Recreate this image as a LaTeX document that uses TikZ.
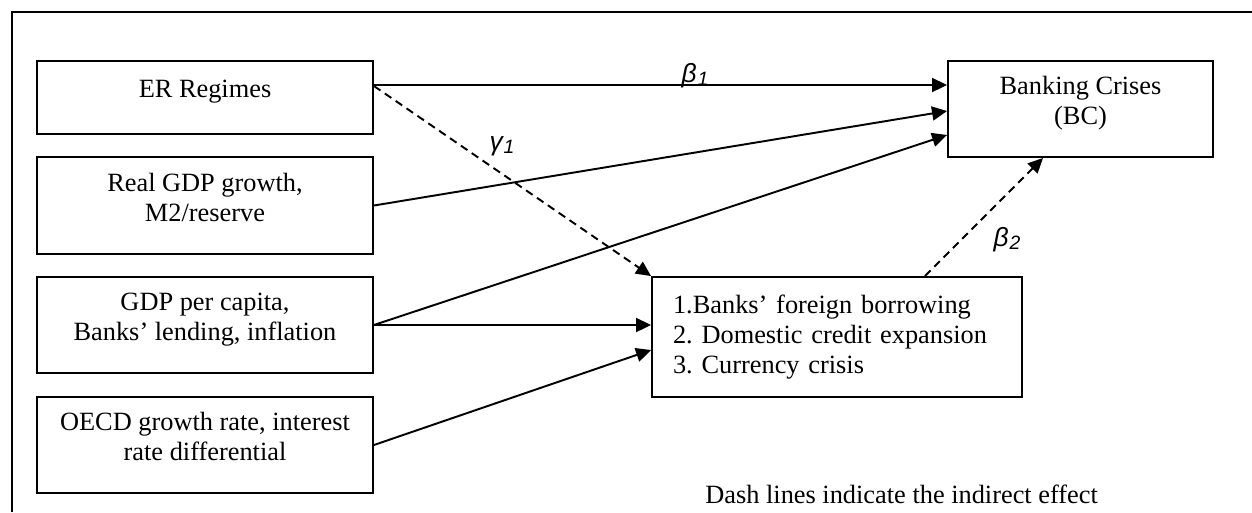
\documentclass[tikz,border=0pt]{standalone}
\usepackage{fontspec}
\setmainfont{Liberation Serif}
\newfontfamily\coeffont{Liberation Sans}
\usetikzlibrary{arrows.meta}
\newcommand{\coef}[2]{{\coeffont\itshape\fontsize{15}{15}\selectfont #1\kern0.5pt\raisebox{-0.07cm}{\fontsize{11}{11}\selectfont #2}}}

\begin{document}
\frenchspacing
\begin{tikzpicture}[
  x=0.02cm,
  y=-0.02cm,
  font=\fontsize{15}{17}\selectfont,
  >={Triangle[length=3mm, width=2.8mm]},
  frame/.style={line width=1.1pt},
  varbox/.style={draw, line width=1.1pt, minimum width=6.72cm, align=center, inner sep=0pt, text depth=0.34cm},
  effect/.style={->, line width=1.1pt},
  indirect/.style={->, line width=1.1pt, dash pattern=on 4.5pt off 3pt},
  coeflabel/.style={anchor=base, inner sep=0pt}
]
\useasboundingbox (0,0) rectangle (1252,512);
\draw[frame] (12,512) -- (12,12) -- (1252,12);

\node[varbox, minimum height=1.46cm] (er) at (205,97.5) {ER Regimes};
\node[varbox, minimum height=1.94cm] (gdp) at (205,205.5) {Real GDP growth,\\M2/reserve};
\node[varbox, minimum height=1.92cm] (percap) at (205,325) {GDP per capita,\\Banks' lending, inflation};
\node[varbox, minimum height=1.92cm] (oecd) at (205,445) {OECD growth rate, interest\\rate differential};
\node[varbox, minimum width=5.3cm, minimum height=1.92cm] (bc) at (1080.5,109) {Banking Crises\\(BC)};
\node[varbox, minimum width=7.4cm, minimum height=2.4cm, text width=6.56cm, align=left, text depth={}] (chan) at (837,337) {1.Banks' foreign borrowing\\2. Domestic credit expansion\\3. Currency crisis};

\draw[effect] ([yshift=0.25cm]er.east) -- ([yshift=0.48cm]bc.west);
\draw[effect] (gdp.east) -- ([yshift=-0.04cm]bc.west);
\draw[effect] (percap.east) -- ([yshift=-0.52cm]bc.west);
\draw[effect] (percap.east) -- ([yshift=0.24cm]chan.west);
\draw[effect] (oecd.east) -- ([yshift=-0.26cm]chan.west);
\draw[indirect] ([yshift=0.23cm]er.east) -- (chan.north west);
\draw[indirect] ([xshift=1.76cm]chan.north) -- ([xshift=-0.75cm]bc.south);

\node[coeflabel] (beta1) at (695,82) {\coef{β}{1}};
\node[coeflabel] (gamma1) at (502,150) {\coef{γ}{1}};
\node[coeflabel] (beta2) at (1007,246) {\coef{β}{2}};
\node[anchor=base west, inner sep=0pt] (note) at (705,503) {Dash lines indicate the indirect effect};

\end{tikzpicture}
\end{document}
